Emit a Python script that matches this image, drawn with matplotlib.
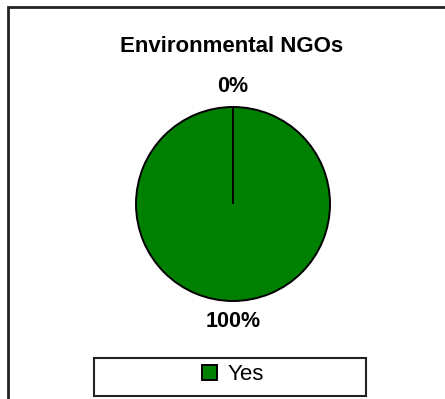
import matplotlib.pyplot as plt
from matplotlib.patches import Rectangle

plt.rcParams['font.family'] = ['Liberation Sans', 'DejaVu Sans']

# Survey answers for environmental NGOs
categories = ['Yes', '']
shares = [100, 0]
colors = ['#008000', '#008000']
title = 'Environmental NGOs'

W, H = 445, 399
fig = plt.figure(figsize=(W / 100, H / 100), dpi=100)
ax = fig.add_axes([0, 0, 1, 1])

wedges, _, pcts = ax.pie(shares, colors=colors, startangle=90, counterclock=False,
                         center=(233, H - 204), radius=97,
                         autopct='%1.0f%%', pctdistance=1.21,
                         wedgeprops=dict(edgecolor='black', linewidth=1.4))
for t in pcts:
    t.set_fontsize(15.5)
    t.set_fontweight('bold')

ax.set_xlim(0, W)
ax.set_ylim(0, H)
ax.set_aspect('equal')
ax.axis('off')

# outer chart border (runs off the right and bottom edges)
fig.patches.append(Rectangle((8 / W, 1 - 500 / H), 600 / W, 493 / H,
                             transform=fig.transFigure, fill=False,
                             edgecolor='#222222', linewidth=2))

fig.text(232 / W, 1 - 52 / H, title, ha='center', va='baseline',
         fontsize=16, fontweight='bold')

# legend frame
fig.patches.append(Rectangle((94 / W, 1 - 396 / H), 272 / W, 38 / H,
                             transform=fig.transFigure, fill=False,
                             edgecolor='#222222', linewidth=1.5))
fig.legend([wedges[0]], [categories[0]], loc='center',
           bbox_to_anchor=(233 / W, 1 - 375 / H), frameon=False,
           fontsize=16, handlelength=0.68, handleheight=0.68,
           handletextpad=0.5, borderpad=0.2)

fig.savefig('out.png', dpi=100)
